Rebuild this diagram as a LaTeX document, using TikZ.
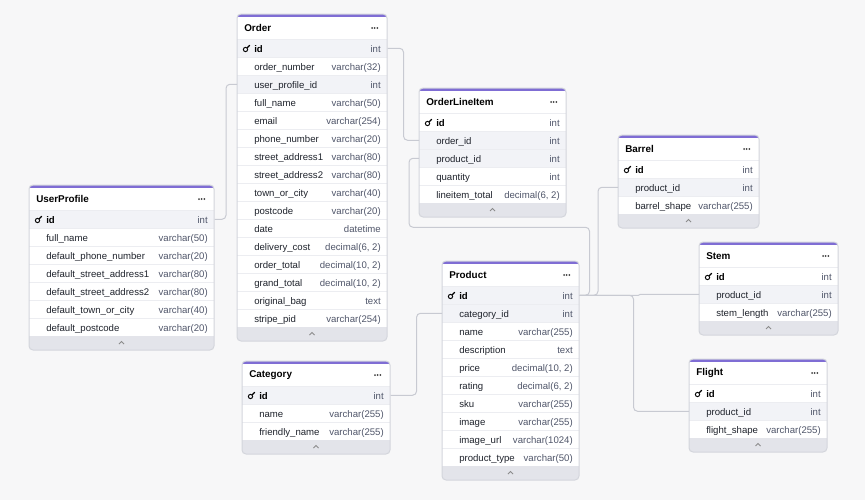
\documentclass[tikz,border=0pt]{standalone}
\usepackage{fontspec}
\setmainfont{Liberation Sans}

\definecolor{canvas}{HTML}{F7F7F8}
\definecolor{erdpurple}{HTML}{7F6DD4}
\definecolor{cardline}{HTML}{D3D5DC}
\definecolor{rowgray}{HTML}{F2F3F7}
\definecolor{rowline}{HTML}{ECEDF1}
\definecolor{footgray}{HTML}{E3E4EA}
\definecolor{linkgray}{HTML}{C8CAD2}
\definecolor{namecol}{HTML}{1F232C}
\definecolor{typecol}{HTML}{50566A}

\tikzset{
  fieldrow/.style = {rectangle, anchor=north west, inner sep=0, minimum height=13.5pt},
  fieldname/.style = {anchor=west, inner sep=0, text=namecol, font=\fontsize{7.2}{8}\selectfont, text height=1.6ex, text depth=.45ex},
  fieldtype/.style = {anchor=east, inner sep=0, text=typecol, font=\fontsize{7.2}{8}\selectfont, text height=1.6ex, text depth=.45ex},
  tabletitle/.style = {anchor=west, inner sep=0, font=\bfseries\fontsize{7.4}{8}\selectfont},
  link/.style = {draw=linkgray, line width=0.75pt, rounded corners=3pt}
}

% table: #1 prefix, #2 left, #3 top, #4 right, #5 title, #6 name/type/highlight/key
\newcommand{\erdtable}[6]{%
  \foreach \r [count=\n] in {#6} {\xdef\nrows{\n}}
  \pgfmathsetmacro{\tbot}{#3+25+18*\nrows+14}
  \begin{scope}
    \clip[rounded corners=3pt] (#2,#3) rectangle (#4,\tbot);
    \fill[white] (#2,#3) rectangle (#4,\tbot);
    \fill[erdpurple] (#2,#3) rectangle (#4,#3+3);
    \fill[footgray] (#2,\tbot-14) rectangle (#4,\tbot);
    \foreach \fname/\ftype/\fhl/\fpk [count=\i] in {#6} {
      \ifnum\fhl=1 \def\rowcol{rowgray}\else\def\rowcol{white}\fi
      \node[fieldrow, fill=\rowcol, minimum width={(#4-#2)*0.75pt}] (#1-\i) at (#2,{#3+25+18*(\i-1)}) {};
      \draw[rowline, line width=0.6pt] (#1-\i.north west) -- (#1-\i.north east);
      \ifnum\fpk=1
        \node[fieldname, text=black] (#1-\i-name) at ({#2+17},{#3+16+18*\i}) {\textbf{\fname}};
        \draw[black, line width=0.7pt] ({#2+8.5},{#3+17.5+18*\i}) circle (1.6pt);
        \draw[black, line width=0.9pt] ({#2+10},{#3+16+18*\i}) -- ({#2+12.8},{#3+13.2+18*\i});
      \else
        \node[fieldname] (#1-\i-name) at ({#2+17},{#3+16+18*\i}) {\fname};
      \fi
      \node[fieldtype] (#1-\i-type) at ({#4-6},{#3+16+18*\i}) {\ftype};
    }
  \end{scope}
  \draw[cardline, line width=0.75pt, rounded corners=3pt] (#2,#3) rectangle (#4,\tbot);
  \node[tabletitle] (#1-title) at ({#2+7},{#3+14}) {#5};
  \foreach \d in {15,12.3,9.6}
    \fill[black!75] ({#4-\d},{#3+14}) circle (0.75pt);
  \draw[black!45, line width=0.6pt] ({(#2+#4)/2-2.5},{\tbot-6}) -- ({(#2+#4)/2},{\tbot-8.5}) -- ({(#2+#4)/2+2.5},{\tbot-6});
}

\begin{document}
\begin{tikzpicture}[x=0.75pt, y=-0.75pt]
  \fill[canvas] (0,0) rectangle (865,500);
  \useasboundingbox (0,0) rectangle (865,500);

  \erdtable{order}{237}{14}{387}{Order}{id/int/1/1, order\_number/varchar(32)/0/0,
    user\_profile\_id/int/1/0, full\_name/varchar(50)/0/0, email/varchar(254)/0/0,
    phone\_number/varchar(20)/0/0, street\_address1/varchar(80)/0/0,
    street\_address2/varchar(80)/0/0, town\_or\_city/varchar(40)/0/0,
    postcode/varchar(20)/0/0, date/datetime/0/0, delivery\_cost/{decimal(6, 2)}/0/0,
    order\_total/{decimal(10, 2)}/0/0, grand\_total/{decimal(10, 2)}/0/0,
    original\_bag/text/0/0, stripe\_pid/varchar(254)/0/0}

  \erdtable{userprofile}{29}{185}{214}{UserProfile}{id/int/1/1, full\_name/varchar(50)/0/0,
    default\_phone\_number/varchar(20)/0/0, default\_street\_address1/varchar(80)/0/0,
    default\_street\_address2/varchar(80)/0/0, default\_town\_or\_city/varchar(40)/0/0,
    default\_postcode/varchar(20)/0/0}

  \erdtable{oli}{419}{88}{566}{OrderLineItem}{id/int/0/1, order\_id/int/1/0,
    product\_id/int/1/0, quantity/int/0/0, lineitem\_total/{decimal(6, 2)}/0/0}

  \erdtable{category}{242}{361}{390}{Category}{id/int/1/1, name/varchar(255)/0/0,
    friendly\_name/varchar(255)/0/0}

  \erdtable{product}{442}{261}{579}{Product}{id/int/1/1, category\_id/int/1/0,
    name/varchar(255)/0/0, description/text/0/0, price/{decimal(10, 2)}/0/0,
    rating/{decimal(6, 2)}/0/0, sku/varchar(255)/0/0, image/varchar(255)/0/0,
    image\_url/varchar(1024)/0/0, product\_type/varchar(50)/0/0}

  \erdtable{barrel}{618}{135}{759}{Barrel}{id/int/0/1, product\_id/int/1/0,
    barrel\_shape/varchar(255)/0/0}

  \erdtable{stem}{699}{242}{838}{Stem}{id/int/0/1, product\_id/int/1/0,
    stem\_length/varchar(255)/0/0}

  \erdtable{flight}{689}{359}{827}{Flight}{id/int/0/1, product\_id/int/1/0,
    flight\_shape/varchar(255)/0/0}

  % relations
  \draw[link] (order-1.east) -- ++(16,0) |- (oli-2.west);
  \draw[link] (order-3.west) -- ++(-11,0) |- (userprofile-1.east);
  \draw[link] (oli-3.west) -- ++(-10,0) -- ++(0,69) -| ([xshift=7.5pt]product-1.east) -- (product-1.east);
  \draw[link] (category-1.east) -- ++(26,0) |- (product-2.west);
  \draw[link] (barrel-2.west) -- ++(-20,0) |- (product-1.east);
  \draw[link, sharp corners] (product-1.east) -- ++(59,0) -- ++(2,-1) -- (stem-2.west);
  \draw[link] (product-1.east) -- ++(54,0) |- (flight-2.west);
\end{tikzpicture}
\end{document}
